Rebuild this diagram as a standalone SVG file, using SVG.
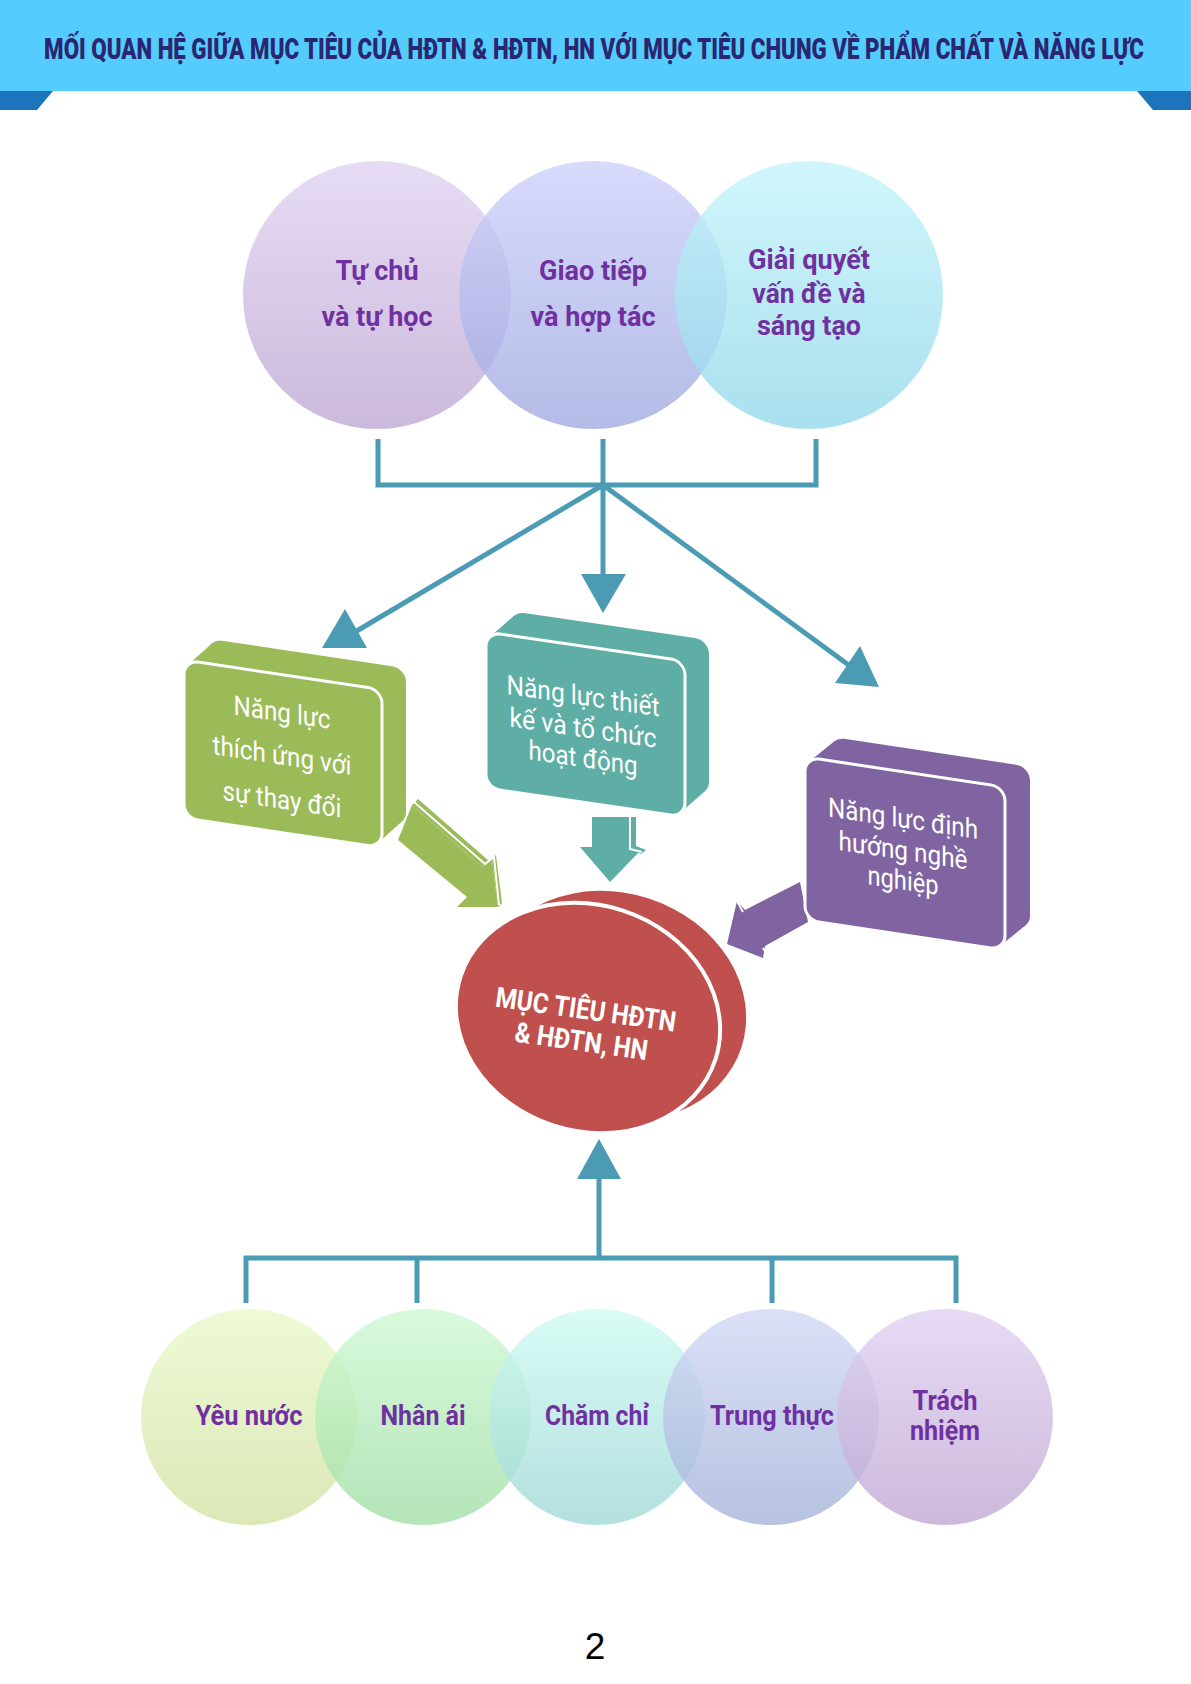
<svg xmlns="http://www.w3.org/2000/svg" width="1191" height="1684" viewBox="0 0 1191 1684">
<defs>
<style>
.lbl{font-family:Roboto,"Liberation Sans",sans-serif;font-weight:bold;font-size:28px;fill:#7030a0;text-anchor:middle}
.lbl2{font-family:Roboto,"Liberation Sans",sans-serif;font-weight:bold;font-size:27px;fill:#7030a0;text-anchor:middle}
.box{font-family:Roboto,"Liberation Sans",sans-serif;font-size:27px;fill:#ffffff;text-anchor:middle}
.red{font-family:Roboto,"Liberation Sans",sans-serif;font-weight:bold;font-size:28px;fill:#ffffff;text-anchor:middle}
.line{fill:none;stroke:#4b9bb5;stroke-width:5}
.head{fill:#4b9bb5}
.circ{fill-opacity:0.8}
.face{stroke:#ffffff;stroke-width:3}
.edge{fill:none;stroke:#ffffff;stroke-width:2}
</style>
<linearGradient id="gL" x1="0" y1="0" x2="0" y2="1"><stop offset="0" stop-color="#e0d3f1"/><stop offset="1" stop-color="#bea8d4"/></linearGradient>
<linearGradient id="gM" x1="0" y1="0" x2="0" y2="1"><stop offset="0" stop-color="#ced1fb"/><stop offset="1" stop-color="#a0aae0"/></linearGradient>
<linearGradient id="gR" x1="0" y1="0" x2="0" y2="1"><stop offset="0" stop-color="#c4f4fb"/><stop offset="1" stop-color="#94d8ea"/></linearGradient>
<linearGradient id="b1" x1="0" y1="0" x2="0" y2="1"><stop offset="0" stop-color="#e9f9cc"/><stop offset="1" stop-color="#d3e2a4"/></linearGradient>
<linearGradient id="b2" x1="0" y1="0" x2="0" y2="1"><stop offset="0" stop-color="#cef9d3"/><stop offset="1" stop-color="#a2dea6"/></linearGradient>
<linearGradient id="b3" x1="0" y1="0" x2="0" y2="1"><stop offset="0" stop-color="#cffaf2"/><stop offset="1" stop-color="#a0d8d8"/></linearGradient>
<linearGradient id="b4" x1="0" y1="0" x2="0" y2="1"><stop offset="0" stop-color="#d2d8f5"/><stop offset="1" stop-color="#a5b3d8"/></linearGradient>
<linearGradient id="b5" x1="0" y1="0" x2="0" y2="1"><stop offset="0" stop-color="#e0d2f1"/><stop offset="1" stop-color="#c0a7d3"/></linearGradient>
</defs>
<rect width="1191" height="1684" fill="#ffffff"/>

<g id="header">
<rect x="0" y="0" width="1191" height="91" fill="#55ccfe"/>
<polygon points="0,91 53,91 37,110 0,110" fill="#1c75bc"/>
<polygon points="1137,91 1191,91 1191,110 1153,110" fill="#1c75bc"/>
<text transform="translate(594,59) scale(0.78,1)" x="0" y="0" text-anchor="middle" textLength="1410" lengthAdjust="spacingAndGlyphs" font-family="Roboto, 'Liberation Sans', sans-serif" font-weight="900" font-size="29" fill="#2b2670">MỐI QUAN HỆ GIỮA MỤC TIÊU CỦA HĐTN &amp; HĐTN, HN VỚI MỤC TIÊU CHUNG VỀ PHẨM CHẤT VÀ NĂNG LỰC</text>
</g>

<g id="connectors">
<path class="line" d="M378,439 V485 H816 V439 M603,439 V485"/>
<path class="line" d="M603,485 L355,632 M603,485 V578 M603,485 L850,666"/>
<polygon class="head" points="345,609 322,648 367,648"/>
<polygon class="head" points="581,574 626,574 603,613"/>
<polygon class="head" points="860,646 835,683 879,687"/>
<path class="line" d="M599,1179 V1258 M246,1303 V1258 H956 V1303 M417,1258 V1303 M772,1258 V1303"/>
<polygon class="head" points="599,1139 577,1179 621,1179"/>
<polygon points="412,805 418,799 489,861 496,855 502,903 498,907 492,859 482,867" fill="#9bbb59"/>
<polygon points="412,805 482,867 492,859 498,907 457,907 467,897 398,840" fill="#9bbb59"/>
<polyline class="edge" points="414,802 485,864 494,857 499,905"/>
<polygon points="628,817 636,817 636,846 646,850 641,854 628,848" fill="#5eaea5"/>
<polygon points="592,817 628,817 628,848 641,850 610,882 580,847 592,847" fill="#5eaea5"/>
<polyline class="edge" points="630,817 630,849 642,852"/>
<polygon points="800,882 745,910 737,901 727,944 763,958 765,946 808,922" fill="#8064a2"/>
<path class="edge" d="M737,901 L743,912 M763,948 L769,958"/>
</g>

<g id="node-tu-chu">
<circle class="circ" cx="377" cy="295" r="134" fill="url(#gL)"/>
<text class="lbl" x="377" y="280" textLength="83" lengthAdjust="spacingAndGlyphs">Tự chủ</text>
<text class="lbl" x="377" y="326" textLength="111" lengthAdjust="spacingAndGlyphs">và tự học</text>
</g>
<g id="node-giao-tiep">
<circle class="circ" cx="593" cy="295" r="134" fill="url(#gM)"/>
<text class="lbl" x="593" y="280" textLength="108" lengthAdjust="spacingAndGlyphs">Giao tiếp</text>
<text class="lbl" x="593" y="326" textLength="125" lengthAdjust="spacingAndGlyphs">và hợp tác</text>
</g>
<g id="node-giai-quyet">
<circle class="circ" cx="809" cy="295" r="134" fill="url(#gR)"/>
<text class="lbl" x="809" y="269" textLength="122" lengthAdjust="spacingAndGlyphs">Giải quyết</text>
<text class="lbl" x="809" y="303" textLength="113" lengthAdjust="spacingAndGlyphs">vấn đề và</text>
<text class="lbl" x="809" y="335" textLength="104" lengthAdjust="spacingAndGlyphs">sáng tạo</text>
</g>

<g id="node-thich-ung" transform="matrix(1,0.15,0,1,184,660)">
<rect x="24" y="-25" width="198" height="158" rx="14" fill="#9bbb59"/>
<polygon points="4.1,4.1 28.1,-20.9 217.9,128.9 193.9,153.9" fill="#9bbb59"/>
<rect class="face" x="0" y="0" width="198" height="158" rx="14" fill="#9bbb59"/>
<text class="box" x="98" y="47" textLength="97" lengthAdjust="spacingAndGlyphs">Năng lực</text>
<text class="box" x="98" y="90" textLength="139" lengthAdjust="spacingAndGlyphs">thích ứng với</text>
<text class="box" x="98" y="134" textLength="119" lengthAdjust="spacingAndGlyphs">sự thay đổi</text>
</g>

<g id="node-thiet-ke" transform="matrix(1,0.146,0,1,486,632)">
<rect x="24" y="-24.5" width="199" height="156" rx="14" fill="#5eaea5"/>
<polygon points="4.1,4.1 28.1,-20.4 218.9,127.4 194.9,151.9" fill="#5eaea5"/>
<rect class="face" x="0" y="0" width="199" height="156" rx="14" fill="#5eaea5"/>
<text class="box" x="97" y="59" textLength="153" lengthAdjust="spacingAndGlyphs">Năng lực thiết</text>
<text class="box" x="97" y="91" textLength="147" lengthAdjust="spacingAndGlyphs">kế và tổ chức</text>
<text class="box" x="97" y="121" textLength="109" lengthAdjust="spacingAndGlyphs">hoạt động</text>
</g>

<g id="node-dinh-huong" transform="matrix(1,0.15,0,1,805,757)">
<rect x="25" y="-24" width="200" height="163" rx="14" fill="#8064a2"/>
<polygon points="4.1,4.1 29.1,-19.9 220.9,134.9 195.9,158.9" fill="#8064a2"/>
<rect class="face" x="0" y="0" width="200" height="163" rx="14" fill="#8064a2"/>
<text class="box" x="98" y="56" textLength="150" lengthAdjust="spacingAndGlyphs">Năng lực định</text>
<text class="box" x="98" y="88" textLength="129" lengthAdjust="spacingAndGlyphs">hướng nghề</text>
<text class="box" x="98" y="118" textLength="71" lengthAdjust="spacingAndGlyphs">nghiệp</text>
</g>

<g id="node-muc-tieu">
<ellipse cx="614" cy="1006" rx="134" ry="113" transform="rotate(18 614 1006)" fill="#c0504d"/>
<ellipse cx="588" cy="1018" rx="134" ry="113" transform="rotate(18 588 1018)" fill="#c0504d" stroke="#ffffff" stroke-width="4"/>
<g transform="rotate(8 583 1030)">
<text class="red" x="583" y="1019" textLength="182" lengthAdjust="spacingAndGlyphs">MỤC TIÊU HĐTN</text>
<text class="red" x="583" y="1051" textLength="134" lengthAdjust="spacingAndGlyphs">&amp; HĐTN, HN</text>
</g>
</g>

<g id="node-yeu-nuoc">
<circle class="circ" cx="249" cy="1417" r="108" fill="url(#b1)"/>
<text class="lbl2" x="249" y="1425" textLength="107" lengthAdjust="spacingAndGlyphs">Yêu nước</text>
</g>
<g id="node-nhan-ai">
<circle class="circ" cx="423" cy="1417" r="108" fill="url(#b2)"/>
<text class="lbl2" x="423" y="1425" textLength="85" lengthAdjust="spacingAndGlyphs">Nhân ái</text>
</g>
<g id="node-cham-chi">
<circle class="circ" cx="597" cy="1417" r="108" fill="url(#b3)"/>
<text class="lbl2" x="597" y="1425" textLength="104" lengthAdjust="spacingAndGlyphs">Chăm chỉ</text>
</g>
<g id="node-trung-thuc">
<circle class="circ" cx="771" cy="1417" r="108" fill="url(#b4)"/>
<text class="lbl2" x="772" y="1425" textLength="124" lengthAdjust="spacingAndGlyphs">Trung thực</text>
</g>
<g id="node-trach-nhiem">
<circle class="circ" cx="945" cy="1417" r="108" fill="url(#b5)"/>
<text class="lbl2" x="945" y="1410" textLength="65" lengthAdjust="spacingAndGlyphs">Trách</text>
<text class="lbl2" x="945" y="1440" textLength="70" lengthAdjust="spacingAndGlyphs">nhiệm</text>
</g>

<text x="595" y="1659" font-family="'Liberation Sans', Arial, sans-serif" font-size="37" fill="#000000" text-anchor="middle">2</text>
</svg>
